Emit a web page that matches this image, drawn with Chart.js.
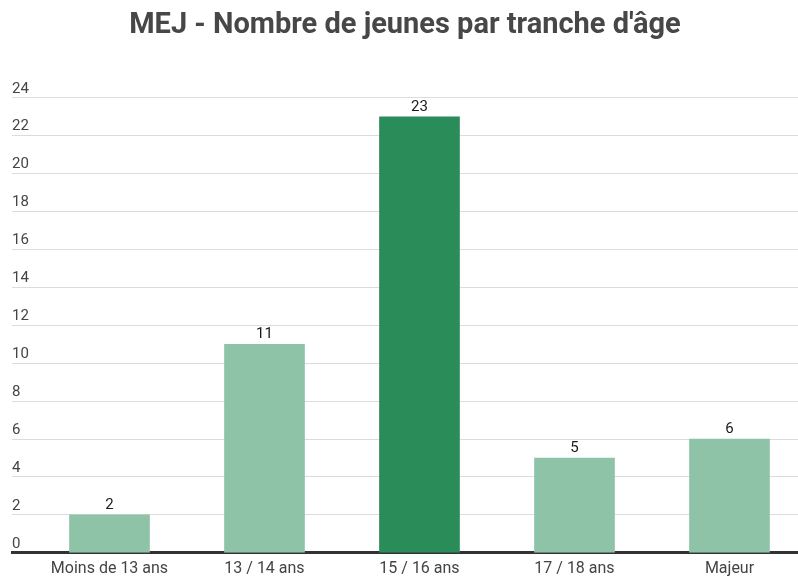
<!DOCTYPE html>
<html>
<head>
<meta charset="utf-8">
<script src="https://cdn.jsdelivr.net/npm/chart.js@4"></script>
<style>
  html, body { margin: 0; padding: 0; background: #fff; }
  #wrap { width: 798px; height: 577px; }
</style>
</head>
<body>
<div id="wrap"><canvas id="chart"></canvas></div>
<script>
// données
const categories = ["Moins de 13 ans", "13 / 14 ans", "15 / 16 ans", "17 / 18 ans", "Majeur"];
const jeunes = [2, 11, 23, 5, 6];
const barColors = ["#8FC3A7", "#8FC3A7", "#2A8C58", "#8FC3A7", "#8FC3A7"];
const yTicks = [0, 2, 4, 6, 8, 10, 12, 14, 16, 18, 20, 22, 24];

// valeurs au-dessus des barres
const valueLabels = {
  id: "valueLabels",
  afterDatasetsDraw(chart) {
    const ctx = chart.ctx;
    const meta = chart.getDatasetMeta(0);
    ctx.save();
    ctx.font = "15px Roboto";
    ctx.fillStyle = "#1a1a1a";
    ctx.textAlign = "center";
    ctx.textBaseline = "alphabetic";
    meta.data.forEach((bar, i) => {
      ctx.fillText(String(jeunes[i]), bar.x, bar.y - 6);
    });
    ctx.restore();
  },
};

const ctx = document.getElementById("chart").getContext("2d");
new Chart(ctx, {
  type: "bar",
  data: {
    datasets: [
      {
        data: jeunes.map((v, i) => ({ x: i, y: v })),
        backgroundColor: barColors,
        barThickness: 80,
        borderWidth: 0,
      },
    ],
  },
  options: {
    responsive: true,
    maintainAspectRatio: false,
    animation: false,
    layout: { padding: { left: 12, right: 0, top: 0, bottom: -9 } },
    plugins: {
      legend: { display: false },
      tooltip: { enabled: false },
      title: {
        display: true,
        text: "MEJ - Nombre de jeunes par tranche d'âge",
        color: "#474747",
        font: { family: "Roboto", size: 29, weight: "bold" },
        padding: { top: 8, bottom: 55 },
      },
    },
    scales: {
      x: {
        type: "linear",
        offset: false,
        min: -0.629,
        max: 4.442,
        grid: { display: false, drawTicks: false },
        border: { display: true, color: "#333", width: 3 },
        afterBuildTicks: (axis) => {
          axis.ticks = categories.map((c, i) => ({ value: i }));
        },
        ticks: {
          color: "#444",
          font: { family: "Roboto", size: 16 },
          padding: 7,
          maxRotation: 0,
          autoSkip: false,
          callback: (v) => categories[v],
        },
      },
      y: {
        min: 0,
        max: 24,
        afterBuildTicks: (axis) => {
          axis.ticks = yTicks.map((v) => ({ value: v }));
        },
        grid: { color: "#dcdcdc", lineWidth: 1, drawTicks: false },
        border: { display: false },
        ticks: {
          mirror: true,
          padding: 0,
          labelOffset: -9,
          color: "#444",
          font: { family: "Roboto", size: 15 },
        },
      },
    },
  },
  plugins: [valueLabels],
});
</script>
</body>
</html>
